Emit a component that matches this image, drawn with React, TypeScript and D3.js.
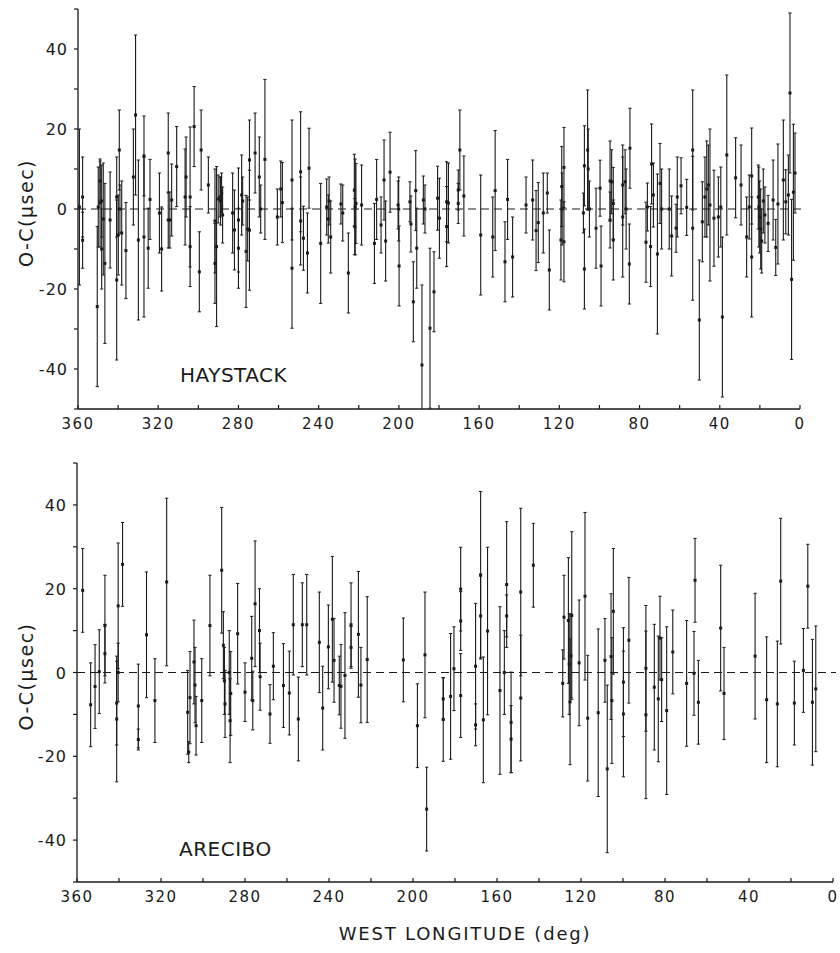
import React from "react";
import * as d3 from "d3";

// [west longitude (deg), O-C (µsec), error (µsec)]
const haystack: [number, number, number][] = [
  [359.3, 0.5, 19.5], [357.7, 3, 10], [357.7, -7.8, 7], [350.4, -24.4, 20], [349.9, 0.5, 10],
  [349.0, 7, 5], [349.0, 1.5, 11], [348.2, -10, 10], [348.2, 2, 9], [347.4, -2.5, 14],
  [346.6, -13.6, 20], [344.0, -2.75, 12], [340.7, -17.75, 20], [340.7, 3, 10], [339.9, -6.5, 10],
  [339.4, 14.75, 10], [339.1, 0, 6], [338.2, -6, 13], [336.1, -10.4, 12], [332.4, 8, 12],
  [331.3, 23.5, 20], [329.9, -7.75, 20], [327.1, 13.25, 10], [327.1, -7, 20], [325.0, -9.8, 10],
  [324.1, 2.4, 10], [319.4, -1, 10], [318.3, -10, 10.5], [315.0, 14, 10], [315.0, -2.75, 7],
  [314.2, -2.75, 7], [313.3, 2.25, 9], [310.8, 10.6, 10], [306.6, 3, 12], [306.1, 8, 10],
  [304.1, 3, 17.5], [304.1, -9.4, 10], [302.1, 20.6, 10], [299.5, -15.7, 10], [298.6, 14.75, 10],
  [295.0, 6, 7], [291.7, -13.6, 10], [291.7, -3, 13], [290.9, -9.4, 20], [290.1, 2.5, 6],
  [289.2, 3, 5], [288.9, 2, 6], [288.4, 4, 5], [287.9, -1.5, 7], [282.9, -1, 10],
  [282.0, -5.25, 10], [280.0, -2.75, 13], [280.0, -9.8, 10], [278.4, 3.5, 10], [277.9, 2, 6],
  [276.2, -10.6, 14], [275.4, -5, 8], [274.5, 12.25, 10], [274.5, -5.3, 15], [271.7, 14, 10],
  [269.6, 8, 10], [268.9, 0, 6], [266.8, 12.4, 20], [260.6, -2, 7], [258.9, 5, 7],
  [258.1, 1.6, 10], [253.3, 7.25, 15], [253.3, -14.8, 15], [249.0, 9.3, 15], [249.0, -3, 11],
  [247.6, -7.3, 8], [245.6, -11, 10], [244.8, 10.2, 10],
  [239.0, -8.6, 15], [236.0, 0.5, 7], [235.2, -2.5, 6], [234.8, 2, 6], [234.0, -7, 9],
  [228.9, 1.25, 5], [228.0, -1, 7], [225.2, -16, 10], [222.2, 4.7, 9], [222.0, -4.4, 7],
  [221.8, 0.5, 12], [221.4, 1.4, 10], [218.6, 1, 10], [212.2, -8.6, 10], [211.1, 2.4, 10],
  [208.9, -4, 7], [207.4, 7.25, 10], [206.6, -8, 10], [204.4, 9.2, 10], [200.4, 1, 6],
  [199.9, -14.25, 10], [200.1, 0, 8], [194.5, 1.8, 5], [194.0, -3.75, 7], [192.8, -23.2, 10],
  [191.6, 4.6, 10], [191.1, -9.8, 10], [188.5, -39, 20], [187.8, 2.25, 6], [187.0, 0, 6],
  [184.5, -29.8, 20], [182.5, -20.7, 10], [180.7, 2.7, 8], [179.8, -2.3, 10], [176.2, 1.8, 10],
  [176.2, -4.4, 10], [175.3, 1.5, 10], [170.4, 1.4, 5], [170.4, 4.75, 5], [169.6, 14.75, 10],
  [167.6, 3.25, 10], [159.2, -6.5, 15], [153.2, -7, 10], [152.0, 4.6, 15], [147.1, -13.2, 10],
  [145.8, 2.4, 10], [143.3, -12, 10], [136.6, 1, 7], [133.3, 2.25, 10], [131.6, -5.4, 10],
  [130.5, -3.4, 10], [128.0, -1, 10], [126.0, 4, 5], [125.0, -15.25, 10],
  [119.2, -7.75, 10], [118.8, 5.6, 10], [118.6, 0, 9], [117.7, 10.4, 10], [117.7, -8.2, 10],
  [108.0, -1, 5], [107.5, 10.8, 10], [107.5, -15, 10], [105.9, 14.75, 15], [105.6, 10, 10],
  [105.0, 0, 7], [101.7, -4.8, 10], [99.7, 5.2, 7], [99.2, -14.25, 10], [94.7, 7, 10],
  [94.7, -2.75, 7], [93.9, 6.8, 8], [93.1, -7.75, 10], [93.1, 1.4, 9], [88.4, 6, 10],
  [88.4, -2, 15], [87.2, 6.8, 8], [86.7, 0, 10], [85.1, -13.75, 10], [84.8, 15.2, 10],
  [76.8, -8.3, 10], [76.1, 0.5, 6], [74.5, -9.4, 10], [74.0, 11.25, 10], [73.1, 3.5, 8],
  [71.1, -11.25, 20], [69.8, 6.4, 10], [69.0, 0, 10], [65.2, 0, 10], [64.0, -6.75, 10],
  [61.8, -4.8, 6], [61.2, 3, 10], [59.3, 5.8, 7], [56.5, 0.4, 7], [53.5, 14.75, 15],
  [53.5, -4.8, 18], [50.2, -27.75, 15], [48.7, -3.2, 10], [47.4, 3, 10], [46.5, 5, 12],
  [45.7, 6, 10], [44.9, 1, 19], [42.9, -2.3, 12], [40.7, -2, 10], [39.5, 0.5, 10],
  [38.7, -27, 20], [36.5, 13.5, 20], [32.1, 7.8, 10], [29.4, 6, 10], [26.6, -7, 10],
  [25.3, 0.5, 8], [24.1, 8.25, 12], [24.1, -12, 15], [20.8, 3, 8], [20.5, 0.5, 10],
  [20.1, -2, 9], [19.6, -5, 10], [19.1, -8, 8], [18.3, 2, 8], [17.5, -1.5, 7],
  [15.9, -3.6, 7], [13.4, 2.25, 10], [12.1, -9.6, 7], [11.0, 1.25, 15], [8.3, 7.25, 15],
  [7.1, 1.8, 8], [5.8, 3.5, 10], [5.0, 29, 20], [4.2, -17.6, 20], [3.3, 4.2, 17],
  [2.5, 9, 10],
];

const arecibo: [number, number, number][] = [
  [357.3, 19.6, 10], [353.5, -7.7, 10], [351.4, -3.35, 10], [349.4, 0.2, 10], [346.7, 11.2, 12],
  [346.7, 4.5, 7], [341.1, -11.1, 15], [341.1, -7.3, 10], [340.4, 15.9, 15], [340.4, 0, 7],
  [338.3, 25.8, 10], [330.8, -8, 10], [330.8, -16, 2.5], [326.9, 9, 15], [322.9, -6.7, 10],
  [317.3, 21.6, 20], [307.3, -9.5, 10], [306.8, -19, 2.5], [306.2, -6, 11], [304.3, 2.5, 10],
  [303.8, -3, 9], [303.3, -12.7, 7], [300.6, -6.7, 10], [296.7, 11.2, 12], [291.1, 24.4, 15],
  [290.3, 6.5, 8], [289.8, -2, 8], [289.5, -7.5, 8], [287.5, 0, 10], [287.1, -11.5, 10],
  [286.8, -5, 10], [283.5, 9.25, 12], [280.0, -4.7, 7], [276.8, 3.4, 10], [276.3, -6.7, 7],
  [275.2, 16.4, 15], [273.1, 10, 10], [272.8, -1, 8], [268.1, -9.9, 7], [266.5, 1.5, 8],
  [261.7, -3.1, 10], [258.9, -4.9, 10], [257.0, 11.4, 12], [254.6, -11.1, 10], [252.7, 11.4, 10],
  [250.6, 11.4, 12], [244.6, 7.2, 12], [243.0, -8.5, 10], [240.3, 6.1, 10], [238.4, 12.7, 15],
  [237.6, 2.9, 10], [235.1, -3.1, 7], [234.3, -3.3, 10], [232.4, -0.7, 15], [229.5, 11.4, 10],
  [229.5, 6, 5], [226.0, 9.1, 15], [224.8, -3, 9], [221.8, 3.1, 15], [204.6, 3, 10],
  [197.9, -12.7, 10], [194.3, 4.2, 15], [193.5, -32.6, 10], [185.6, -6.3, 5], [185.6, -11.2, 10],
  [182.1, -5.7, 15], [180.5, 0.9, 10], [177.3, 19.9, 10], [177.3, 12.3, 7], [177.3, -5.5, 10],
  [170.2, 1.5, 15], [170.2, -12.5, 5], [167.8, 23.2, 20], [167.8, 13.5, 10], [166.5, -11.3, 15],
  [164.5, 9.9, 20], [158.6, -4.3, 20], [156.5, 0, 10], [155.4, 21, 15], [155.4, 13.5, 5],
  [153.3, -11.9, 12], [153.3, -15.9, 8], [148.7, 19.2, 20], [148.7, -6.1, 15], [142.7, 25.6, 10],
  [128.7, -2.6, 8], [128.1, 13.2, 10], [126.0, 12.4, 15], [125.6, 2, 12], [125.2, -7, 15],
  [124.8, 4, 10], [124.4, 13.6, 20], [120.9, 2.3, 15], [118.1, 18.2, 20], [116.8, -10.9, 15],
  [111.8, -9.6, 20], [108.6, 2.9, 10], [107.5, -23, 20], [105.7, 3.8, 15], [105.3, -6.7, 15],
  [104.6, 14.6, 15], [99.8, -2.3, 13], [99.8, -9.9, 15], [97.2, 7.7, 15], [89.1, -10.1, 20],
  [89.1, 1, 15], [85.1, -3.5, 15], [83.2, -6.3, 15], [82.4, 8.2, 10], [81.6, -1.7, 10],
  [79.2, -9.1, 20], [76.3, 4.9, 10], [69.7, -2.6, 15], [66.2, -0.2, 10], [65.7, 22, 10],
  [64.1, -7.1, 10], [53.5, 10.6, 15], [51.9, -5, 11], [37.1, 3.9, 15], [31.6, -6.5, 15],
  [26.5, -7.5, 15], [24.9, 21.8, 15], [18.4, -7.3, 10], [14.1, 0.5, 10], [12.0, 20.6, 10],
  [9.8, -7.1, 15], [8.2, -3.9, 15],
];

const xTickValues = d3.range(0, 361, 20);
const xTickLabels = [360, 320, 280, 240, 200, 160, 120, 80, 40, 0];
const yTickValues = d3.range(-50, 51, 10);
const yTickLabels = [40, 20, 0, -20, -40];

const FONT = "'DejaVu Sans', sans-serif";
const INK = "#1a1a1a";

type PanelProps = {
  id: string;
  data: [number, number, number][];
  x0: number; x1: number; yTop: number; yBot: number;
  name: string; nameY: number;
  zeroEnd: number;
};

function Panel({ id, data, x0, x1, yTop, yBot, name, nameY, zeroEnd }: PanelProps) {
  const x = d3.scaleLinear().domain([360, 0]).range([x0, x1]);
  const y = d3.scaleLinear().domain([-50, 50]).range([yBot, yTop]);
  const cap = 1.6;
  return (
    <g>
      <defs>
        <clipPath id={id}>
          <rect x={x0 - 4} y={yTop} width={zeroEnd - x0 + 8} height={yBot - yTop} />
        </clipPath>
      </defs>
      {/* zero line */}
      <line x1={x0} x2={zeroEnd} y1={y(0)} y2={y(0)} stroke={INK} strokeWidth={1} strokeDasharray="8,5" />
      {/* error bars */}
      <g clipPath={`url(#${id})`} stroke={INK} fill={INK}>
        {data.map(([lon, v, e], i) => {
          const cx = x(lon);
          return (
            <g key={i}>
              <line x1={cx} x2={cx} y1={y(v + e)} y2={y(v - e)} strokeWidth={1.1} />
              <line x1={cx - cap} x2={cx + cap} y1={y(v + e)} y2={y(v + e)} strokeWidth={1} />
              <line x1={cx - cap} x2={cx + cap} y1={y(v - e)} y2={y(v - e)} strokeWidth={1} />
              <rect x={cx - 1.5} y={y(v) - 1.5} width={3} height={3} stroke="none" />
            </g>
          );
        })}
      </g>
      {/* axes */}
      <line x1={x0} x2={x0} y1={yTop} y2={yBot} stroke={INK} strokeWidth={1.3} />
      <line x1={x0} x2={x1} y1={yBot} y2={yBot} stroke={INK} strokeWidth={1.3} />
      {yTickValues.map((t) => (
        <line key={"yt" + t} x1={x0 - 4} x2={x0} y1={y(t)} y2={y(t)} stroke={INK} strokeWidth={1.2} />
      ))}
      {yTickLabels.map((t) => (
        <text key={"yl" + t} x={x0 - 10} y={y(t) + 6} textAnchor="end" fontFamily={FONT} fontSize={16}
          letterSpacing={1} fill={INK}>{String(t)}</text>
      ))}
      {xTickValues.map((t) => (
        <line key={"xt" + t} x1={x(t)} x2={x(t)} y1={yBot - 4} y2={yBot} stroke={INK} strokeWidth={1.2} />
      ))}
      {xTickLabels.map((t) => (
        <text key={"xl" + t} x={x(t)} y={yBot + 20} textAnchor="middle" fontFamily={FONT} fontSize={15}
          letterSpacing={1.5} fill={INK}>{String(t)}</text>
      ))}
      <text transform={`translate(33,${(yTop + yBot) / 2 + 4}) rotate(-90)`} textAnchor="middle"
        fontFamily={FONT} fontSize={19} letterSpacing={1.5} fill={INK}>O-C(μsec)</text>
      <text x={x(360) + 102} y={nameY} fontFamily={FONT} fontSize={20} letterSpacing={0.5} fill={INK}>{name}</text>
    </g>
  );
}

export default function App() {
  return (
    <svg width={840} height={953} style={{ position: "absolute", left: 0, top: 0, background: "#fff" }}>
      <rect width={840} height={953} fill="#fff" />
      <Panel id="clipTop" data={haystack} x0={78} x1={800} yTop={9} yBot={409}
        name="HAYSTACK" nameY={382} zeroEnd={804} />
      <Panel id="clipBot" data={arecibo} x0={77} x1={833} yTop={463} yBot={882}
        name="ARECIBO" nameY={856} zeroEnd={836} />
      <text x={465} y={940} textAnchor="middle" fontFamily={FONT} fontSize={18} letterSpacing={1.8} fill={INK}>
        WEST LONGITUDE (deg)
      </text>
    </svg>
  );
}
